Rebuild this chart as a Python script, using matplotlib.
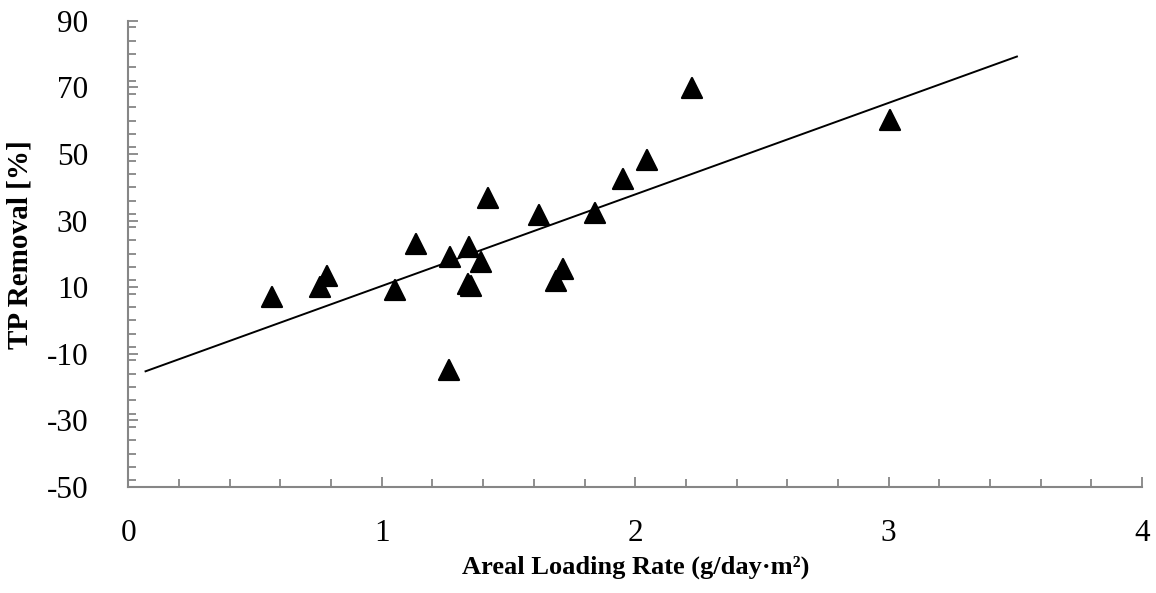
import numpy as np
import matplotlib
matplotlib.use("Agg")
import matplotlib.pyplot as plt
from matplotlib.markers import MarkerStyle
from matplotlib.ticker import MultipleLocator

# areal loading rate (g/day.m2) vs TP removal (%)
loading = [0.568, 0.755, 0.783, 1.053, 1.136, 1.270, 1.267, 1.345, 1.391, 1.339,
           1.352, 1.420, 1.622, 1.714, 1.688, 1.842, 1.951, 2.046, 2.224, 3.006]
removal = [7.1, 10.0, 13.3, 9.0, 22.9, 19.0, -14.9, 22.0, 17.4, 10.9,
           10.3, 36.7, 31.7, 15.3, 11.8, 32.3, 42.4, 48.3, 69.7, 60.3]
x_ticks = [0, 1, 2, 3, 4]
y_ticks = [-50, -30, -10, 10, 30, 50, 70, 90]

plt.rcParams['font.family'] = ['Liberation Serif', 'DejaVu Serif']
plt.rcParams['axes.unicode_minus'] = False

fig = plt.figure(figsize=(11.56, 5.93), dpi=100)
ax = fig.add_axes([0.111, 0.179, 0.877, 0.786])

x = np.array(loading); y = np.array(removal)
k, b = np.polyfit(x, y, 1)
xl = np.array([x.min() - 0.5, x.max() + 0.5])   # excel-style forecast both ways
ax.plot(xl, k * xl + b, color="black", lw=1.4, zorder=2)

ax.plot(x, y, ls="none", marker=MarkerStyle("^", joinstyle="round"),
        ms=14, mfc="black", mec="black", mew=1.6, zorder=3)

ax.set_xlim(0, 4); ax.set_ylim(-50, 90)
ax.set_xticks(x_ticks); ax.set_yticks(y_ticks)
ax.xaxis.set_minor_locator(MultipleLocator(0.2))
ax.yaxis.set_minor_locator(MultipleLocator(4))
for s in ("top", "right"):
    ax.spines[s].set_visible(False)
for s in ("left", "bottom"):
    ax.spines[s].set_color("#868686"); ax.spines[s].set_linewidth(1.5)
ax.tick_params(which="both", direction="in", color="#868686", width=1.3,
               labelsize=22.5, labelcolor="black")
ax.tick_params(which="major", length=7)
ax.tick_params(which="minor", length=5.5)
ax.tick_params(axis="y", which="major", pad=29)
ax.tick_params(axis="x", which="major", pad=23)

ax.set_xlabel("Areal Loading Rate (g/day·m²)", fontsize=19, fontweight="bold")
ax.set_ylabel("TP Removal [%]", fontsize=21, fontweight="bold")
ax.xaxis.set_label_coords(0.5, -0.148)
ax.yaxis.set_label_coords(-0.094, 0.52)

fig.savefig("out.png", dpi=100)
